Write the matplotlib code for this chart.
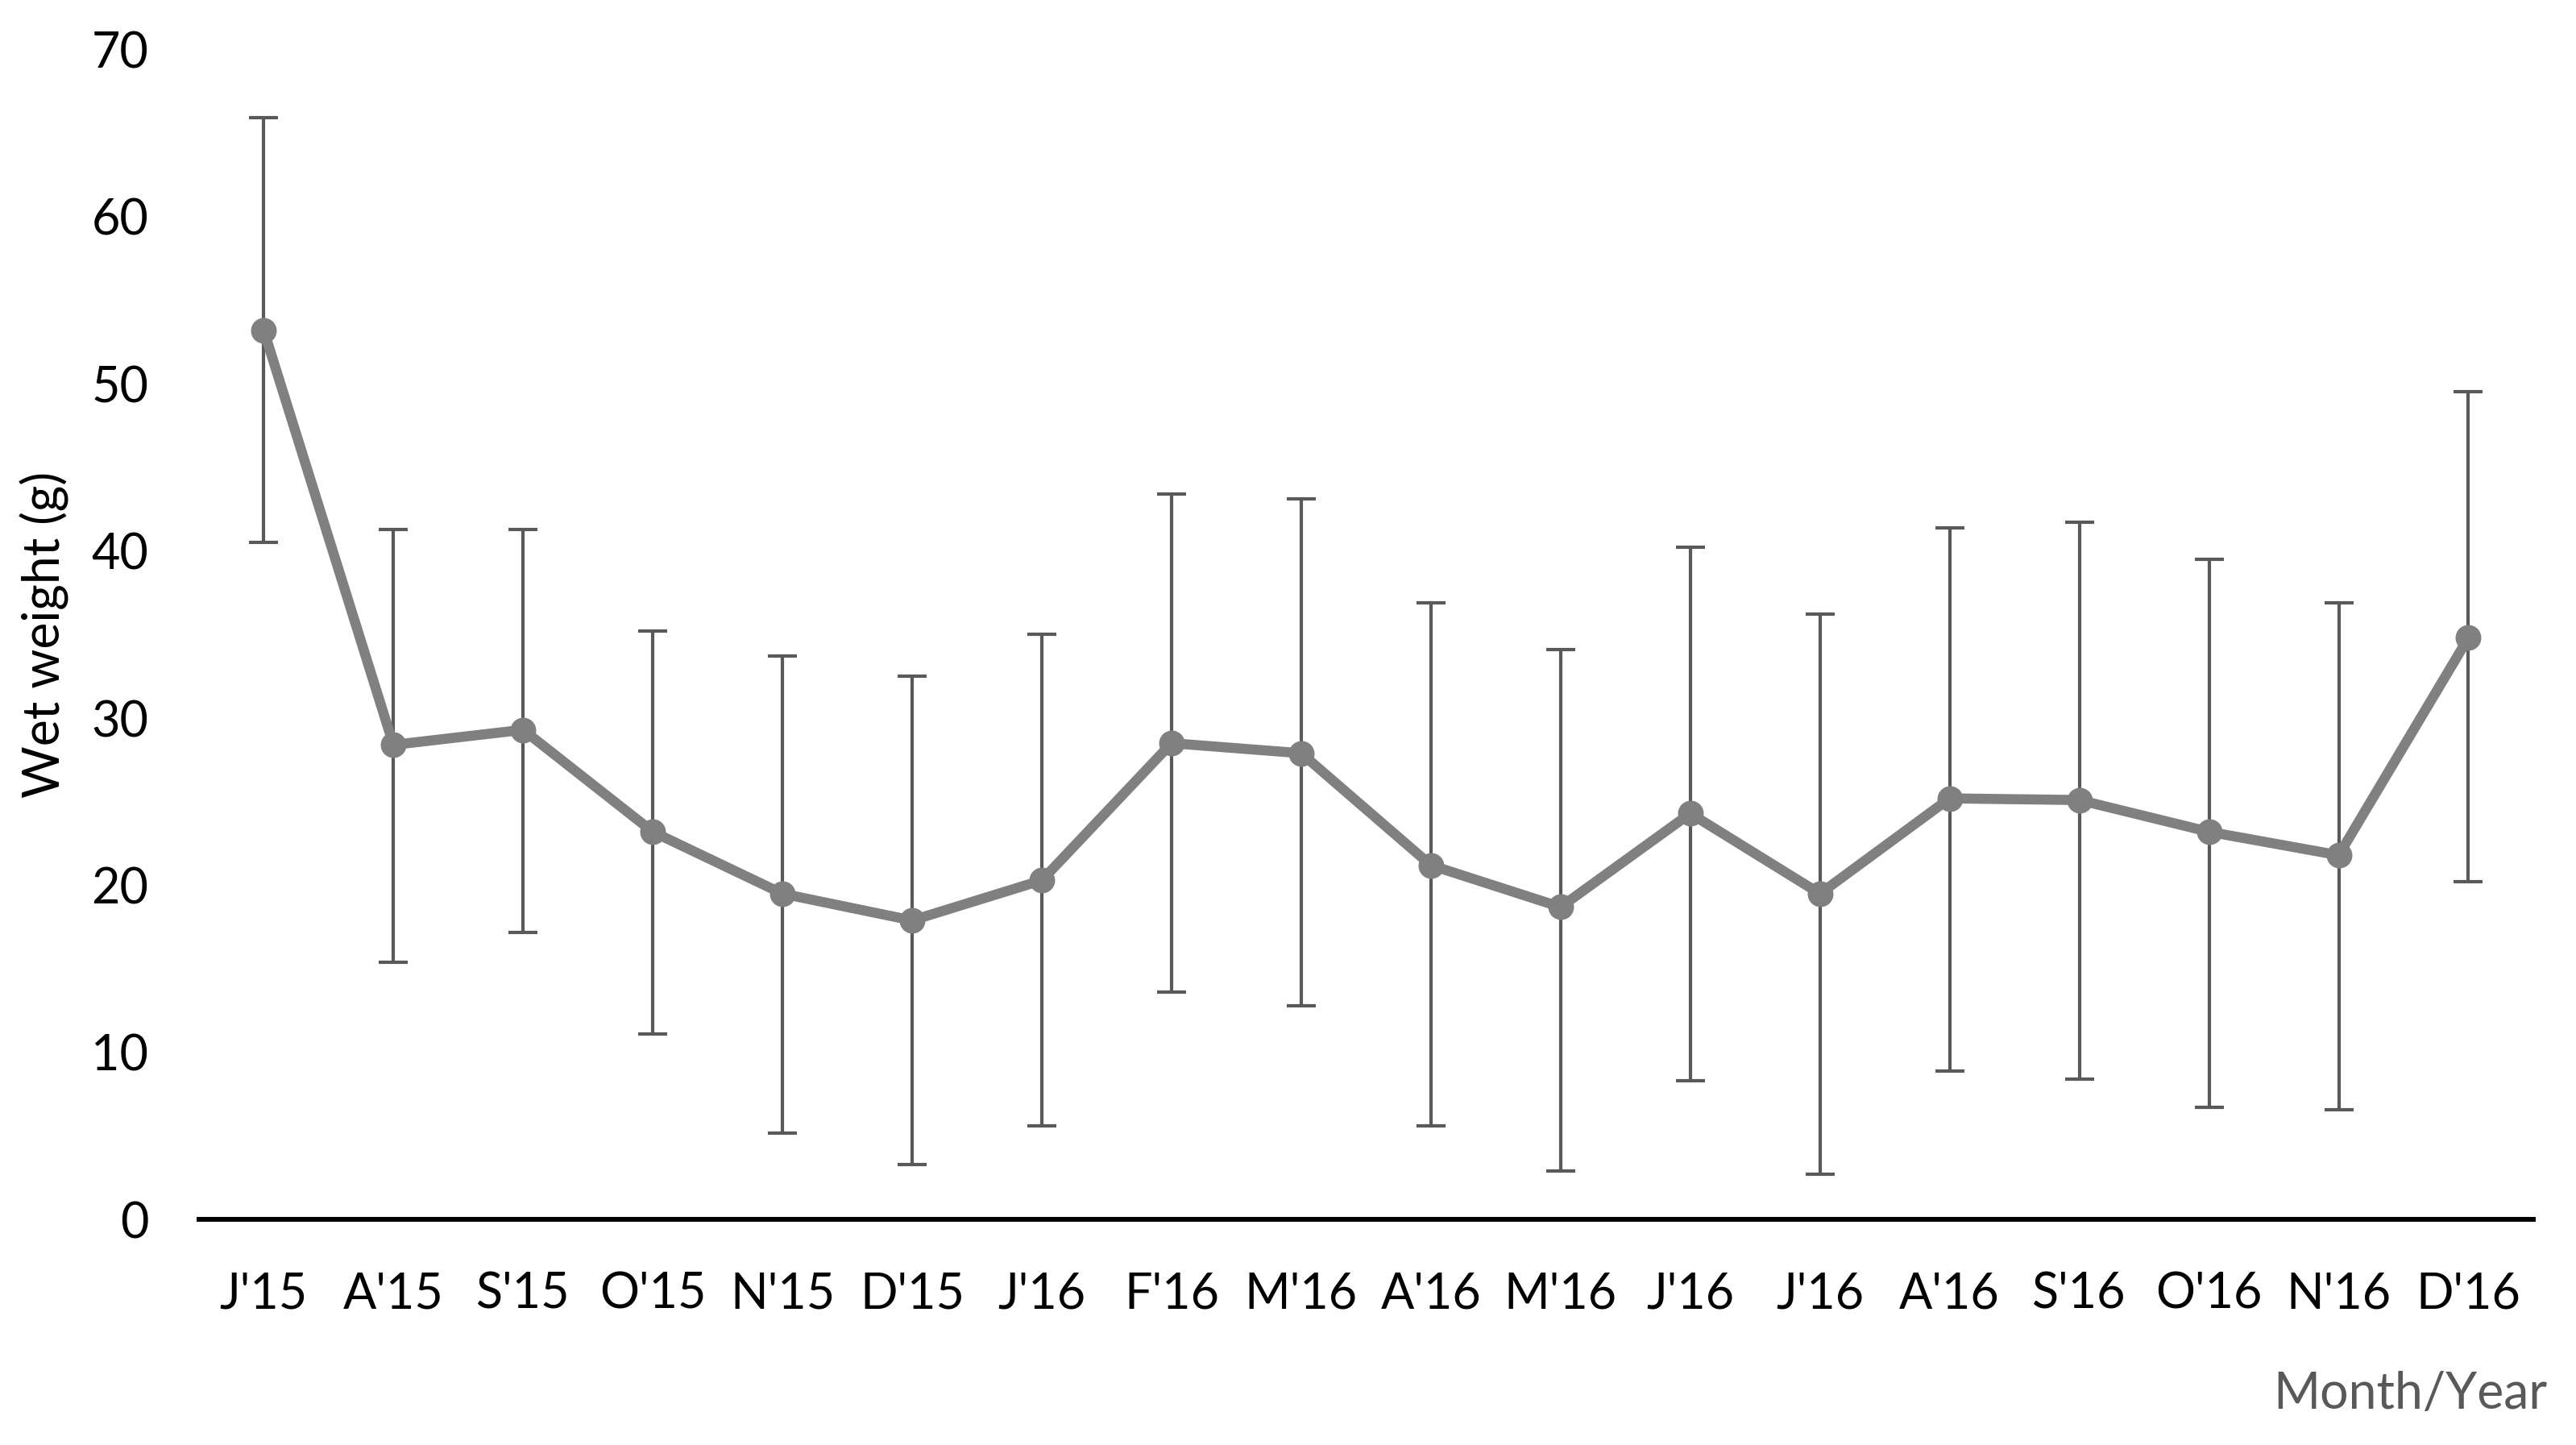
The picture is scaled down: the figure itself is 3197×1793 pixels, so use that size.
import numpy as np
from matplotlib import pyplot as plt

# months and wet weight (g)
months = ["J'15", "A'15", "S'15", "O'15", "N'15", "D'15", "J'16", "F'16", "M'16",
          "A'16", "M'16", "J'16", "J'16", "A'16", "S'16", "O'16", "N'16", "D'16"]
mean = [53.2, 28.4, 29.3, 23.2, 19.5, 17.9, 20.3, 28.5, 27.9,
        21.2, 18.7, 24.3, 19.5, 25.2, 25.1, 23.2, 21.8, 34.8]
upper = [65.9, 41.3, 41.3, 35.2, 33.7, 32.5, 35.0, 43.4, 43.1,
         36.9, 34.1, 40.2, 36.2, 41.4, 41.7, 39.5, 36.9, 49.5]
lower = [40.5, 15.4, 17.2, 11.1, 5.2, 3.3, 5.6, 13.6, 12.8,
         5.6, 2.9, 8.3, 2.7, 8.9, 8.4, 6.7, 6.6, 20.2]

plt.rcParams['font.family'] = ['Lato', 'DejaVu Sans']

x = np.arange(len(months))
m = np.array(mean)
yerr = [m - np.array(lower), np.array(upper) - m]

fig = plt.figure(figsize=(31.97, 17.93), dpi=100)
ax = fig.add_axes([0.0772, 0.1559, 0.9062, 0.81])

ax.errorbar(x, m, yerr=yerr, fmt='none', ecolor='#595959', elinewidth=3,
            capsize=13, capthick=3, zorder=2)
ax.plot(x, m, color='#808080', lw=9, marker='o', ms=22, zorder=3)

ax.set_xlim(-0.5, len(months) - 0.5)
ax.set_ylim(0, 70)
ax.set_yticks(range(0, 71, 10))
ax.set_xticks(x)
ax.set_xticklabels(months)
ax.tick_params(axis='both', length=0, labelsize=44, colors='black')
ax.tick_params(axis='x', pad=46)
ax.tick_params(axis='y', pad=45)

for s in ['top', 'right', 'left']:
    ax.spines[s].set_visible(False)
ax.spines['bottom'].set_linewidth(4.3)
ax.spines['bottom'].set_color('black')

ax.set_ylabel("Wet weight (g)", fontsize=45, labelpad=20)
fig.text(0.989, 0.035, "Month/Year", fontsize=45, color='#595959', ha='right', va='center')

plt.savefig("out.png", dpi=100)
